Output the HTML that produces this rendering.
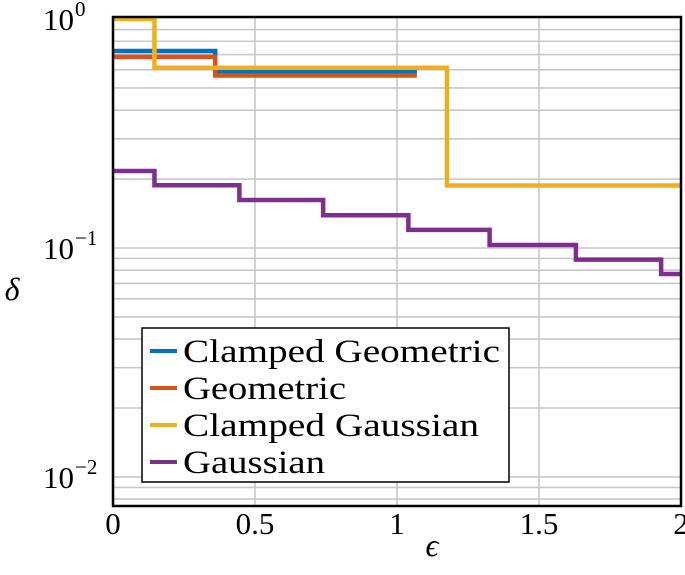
<!DOCTYPE html>
<html><head><meta charset="utf-8"><style>
body{margin:0;background:#fff}
text{font-family:"Liberation Serif",serif;fill:#000}
</style></head><body>
<svg id="chart" width="685" height="570">
<g id="grid"></g>
<g id="series"></g>
<rect x="113" y="17" width="568" height="489" fill="none" stroke="#000" stroke-width="2.5"/>
<g id="ticks"></g>
<text x="12" y="300" font-size="32" font-style="italic" text-anchor="middle">δ</text>
<text x="432" y="556" font-size="32" font-style="italic" text-anchor="middle">ϵ</text>
<g>
<rect x="142" y="328" width="367" height="154" fill="#fff" stroke="#000" stroke-width="1.5"/>
<line x1="150" x2="177" y1="351" y2="351" stroke="#0072BD" stroke-width="4"/>
<text x="183" y="362" font-size="33" textLength="317" lengthAdjust="spacingAndGlyphs">Clamped Geometric</text>
<line x1="150" x2="177" y1="388" y2="388" stroke="#D95319" stroke-width="4"/>
<text x="183" y="399" font-size="33" textLength="163" lengthAdjust="spacingAndGlyphs">Geometric</text>
<line x1="150" x2="177" y1="425" y2="425" stroke="#EDB120" stroke-width="4"/>
<text x="183" y="436" font-size="33" textLength="296" lengthAdjust="spacingAndGlyphs">Clamped Gaussian</text>
<line x1="150" x2="177" y1="462" y2="462" stroke="#7E2F8E" stroke-width="4"/>
<text x="183" y="473" font-size="33" textLength="142" lengthAdjust="spacingAndGlyphs">Gaussian</text>
</g>
</svg>
<script>
const xTicks=[0,0.5,1,1.5,2];
const xTickLabels=["0","0.5","1","1.5","2"];
const yDecades=[0,-1,-2];
const cgX=[0,0.36,1.07];
const cgY=[0.725,0.59];
const geoX=[0,0.36,1.07];
const geoY=[0.684,0.567];
const cgaX=[0,0.146,1.176,2];
const cgaY=[1.0,0.613,0.1875];
const gaX=[0,0.146,0.445,0.74,1.04,1.326,1.63,1.93,2];
const gaY=[0.217,0.188,0.162,0.139,0.12,0.103,0.089,0.077];
const X0=113,X1=681,YT=17,YB=506,LMAX=0.009,LMIN=-2.127;
const sx=v=>X0+(v-0)/2*(X1-X0);
const sy=v=>YT+(LMAX-Math.log10(v))/(LMAX-LMIN)*(YB-YT);
const NS="http://www.w3.org/2000/svg";
function mk(tag,attrs,parent){const e=document.createElementNS(NS,tag);for(const k in attrs)e.setAttribute(k,attrs[k]);parent.appendChild(e);return e;}
const grid=document.getElementById('grid'),ticks=document.getElementById('ticks'),ser=document.getElementById('series');
xTicks.forEach((t,i)=>{
 if(t>0&&t<2){const l=mk('line',{x1:sx(t),x2:sx(t),y1:YT,y2:YB,stroke:'#c8c8c8','stroke-width':1.6},grid);
 
 }
 const tx=mk('text',{x:sx(t),y:534,'font-size':31,'text-anchor':'middle'},ticks);tx.textContent=xTickLabels[i];
 
 
});
[-3,-2,-1].forEach(d=>{for(let m=1;m<10;m++){const v=m*Math.pow(10,d);const y=sy(v);if(y<YT||y>YB)continue;
 const l=mk('line',{x1:X0,x2:X1,y1:y,y2:y,stroke:'#c8c8c8','stroke-width':1.6},grid);
 
 }});
yDecades.forEach(d=>{const y=sy(Math.pow(10,d));
 const t=mk('text',{x:74,y:y+11,'font-size':31,'text-anchor':'end'},ticks);t.textContent='10';
 
 
 const s=mk('text',{x:75,y:y-3,'font-size':21},ticks);s.textContent=d===0?'0':'−'+(-d);
 
 
});
function stair(xs,ys,color,name){let p='M'+sx(xs[0])+','+sy(ys[0]);
 for(let i=0;i<ys.length;i++){p+=' L'+sx(xs[i+1])+','+sy(ys[i]);if(i+1<ys.length)p+=' L'+sx(xs[i+1])+','+sy(ys[i+1]);}
 const e=mk('path',{d:p,fill:'none',stroke:color,'stroke-width':4.5},ser);
 
 }
stair(cgX,cgY,'#0072BD','line-clamped-geometric');
stair(geoX,geoY,'#D95319','line-geometric');
stair(cgaX,cgaY,'#EDB120','line-clamped-gaussian');
stair(gaX,gaY,'#7E2F8E','line-gaussian');
</script>
</body></html>
